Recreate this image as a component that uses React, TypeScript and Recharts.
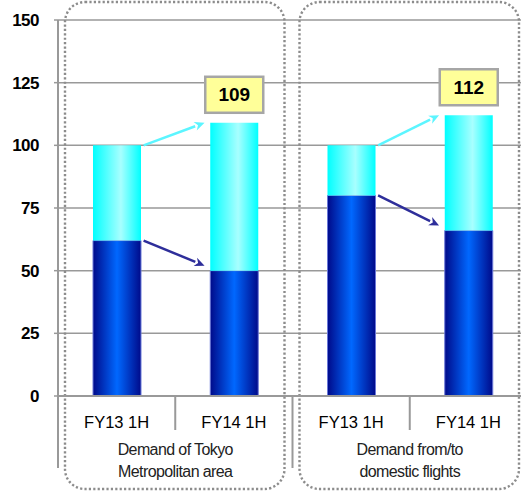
import React from 'react';
import {
  BarChart,
  Bar,
  XAxis,
  YAxis,
  CartesianGrid,
  ReferenceLine,
  ReferenceArea,
  LabelList,
} from 'recharts';

// ---- data ----
const groupLabels = [
  ['Demand of Tokyo', 'Metropolitan area'],
  ['Demand from/to', 'domestic flights'],
];
const periods = ['FY13 1H', 'FY14 1H'];
const lowerSegment = [62, 50, 80, 66];
const upperSegment = [38, 59, 20, 46];
const yTicks = [0, 25, 50, 75, 100, 125, 150];

// one slot per bar, unique so reference shapes can target it
const slots = groupLabels.flatMap((_, g) => periods.map((p) => `${g}:${p}`));
const data = slots.map((slot, i) => ({
  slot,
  period: periods[i % periods.length],
  lower: lowerSegment[i],
  upper: upperSegment[i],
  // callout boxes only above the later period of each group
  total: i % 2 === 1 ? lowerSegment[i] + upperSegment[i] : null,
}));

const FONT = '"Liberation Sans", Arial, sans-serif';
const AXIS_GREY = '#999999';

function PeriodTick(props: any) {
  const { x, y, index, payload } = props;
  const half = payload?.offset || 58.6;
  const row = data[index];
  const right = x + half;
  const groupEnd = index % 2 === 1;
  const g = Math.floor(index / 2);
  return (
    <g>
      <text x={x} y={y + 26} dy="0.35em" textAnchor="middle" fontSize={16.5} fontFamily={FONT} fill="#000">
        {row.period}
      </text>
      {index === 0 && (
        <line x1={x - half} x2={x - half} y1={y} y2={y + 72} stroke={AXIS_GREY} strokeWidth={2} />
      )}
      {index < data.length - 1 && (
        <line x1={right} x2={right} y1={y} y2={y + (groupEnd ? 72 : 34)} stroke={AXIS_GREY} strokeWidth={2} />
      )}
      {!groupEnd &&
        groupLabels[g].map((line, k) => (
          <text
            key={k}
            x={right}
            y={y + 53 + k * 22}
            dy="0.35em"
            textAnchor="middle"
            fontSize={16}
            fontFamily={FONT}
            letterSpacing={-0.6}
            fill="#222"
          >
            {line}
          </text>
        ))}
    </g>
  );
}

// dotted rounded frame around each group, reaching below the axis labels
function GroupFrame(props: any) {
  const { x, y, width, height } = props;
  return (
    <rect
      x={x + 7}
      y={y - 18}
      width={width - 15}
      height={height + 111}
      rx={20}
      ry={20}
      fill="none"
      stroke="#8c8c8c"
      strokeWidth={2.4}
      strokeDasharray="2.2 2.2"
    />
  );
}

function makeArrow(color: string, lift: number) {
  return (props: any) => {
    const { x1, y1, x2, y2 } = props;
    const d = x2 - x1;
    const sx = x1 + d * 0.23;
    const ex = x2 - d * 0.25;
    const ey = y2 - lift;
    const ang = Math.atan2(ey - y1, ex - sx);
    const len = 10;
    const w = 4.5;
    const bx = ex - len * Math.cos(ang);
    const by = ey - len * Math.sin(ang);
    const px = -Math.sin(ang) * w;
    const py = Math.cos(ang) * w;
    return (
      <g>
        <line x1={sx} y1={y1} x2={bx} y2={by} stroke={color} strokeWidth={2.5} />
        <path d={`M${ex},${ey} L${bx + px},${by + py} L${bx + 3 * Math.cos(ang)},${by + 3 * Math.sin(ang)} L${bx - px},${by - py} Z`} fill={color} />
      </g>
    );
  };
}

function TotalCallout(props: any) {
  const { x, y, width, value } = props;
  if (value == null) return null;
  const cx = x + width / 2;
  const w = 58;
  const h = 36;
  const top = y - 10 - h;
  return (
    <g>
      <rect x={cx - w / 2} y={top} width={w} height={h} fill="#ffff99" stroke="#a6a6a6" strokeWidth={2.5} />
      <text x={cx} y={top + h / 2} dy="0.35em" textAnchor="middle" fontSize={19} fontWeight="bold" fontFamily={FONT} fill="#000">
        {value}
      </text>
    </g>
  );
}

export default function App() {
  const arrows = groupLabels.flatMap((_, g) => {
    const a = 2 * g;
    const b = a + 1;
    return [
      { key: `t${g}`, from: { x: slots[a], y: data[a].lower + data[a].upper }, to: { x: slots[b], y: data[b].lower + data[b].upper }, color: '#5cf5ff', lift: 0 },
      { key: `l${g}`, from: { x: slots[a], y: data[a].lower }, to: { x: slots[b], y: data[b].lower }, color: '#2e2e9a', lift: 5 },
    ];
  });

  return (
    <div style={{ position: 'absolute', left: 0, top: 0, width: 521, height: 491, overflow: 'hidden', background: '#fff' }}>
      <BarChart
        width={540}
        height={491}
        data={data}
        margin={{ top: 20, right: 13, bottom: 0, left: 0 }}
        barSize={48}
        style={{ fontFamily: FONT }}
      >
        <defs>
          <linearGradient id="lowerFill" x1="0" y1="0" x2="1" y2="0">
            <stop offset="0%" stopColor="#000a8a" />
            <stop offset="50%" stopColor="#0068ff" />
            <stop offset="100%" stopColor="#000a8a" />
          </linearGradient>
          <linearGradient id="upperFill" x1="0" y1="0" x2="1" y2="0">
            <stop offset="0%" stopColor="#00ffff" />
            <stop offset="58%" stopColor="#a8ffff" />
            <stop offset="100%" stopColor="#00ffff" />
          </linearGradient>
        </defs>
        <CartesianGrid vertical={false} stroke={AXIS_GREY} strokeWidth={1.5} />
        {groupLabels.map((_, g) => (
          <ReferenceArea
            key={`frame${g}`}
            x1={slots[2 * g]}
            x2={slots[2 * g + 1]}
            ifOverflow="visible"
            shape={GroupFrame}
          />
        ))}
        <XAxis
          dataKey="slot"
          interval={0}
          height={95}
          tickSize={0}
          tickMargin={0}
          tickLine={false}
          axisLine={{ stroke: AXIS_GREY, strokeWidth: 2 }}
          tick={PeriodTick}
        />
        <YAxis
          width={58}
          domain={[0, 150]}
          ticks={yTicks}
          interval={0}
          tickSize={4}
          tickMargin={15}
          tickLine={{ stroke: AXIS_GREY, strokeWidth: 1.5 }}
          axisLine={{ stroke: AXIS_GREY, strokeWidth: 2 }}
          tick={{ fontSize: 17, fontWeight: 'bold', fill: '#000', fontFamily: FONT, letterSpacing: -0.5 }}
        />
        <Bar dataKey="lower" stackId="s" fill="url(#lowerFill)" stroke="#6a78d8" strokeWidth={1} isAnimationActive={false} />
        <Bar dataKey="upper" stackId="s" fill="url(#upperFill)" isAnimationActive={false}>
          <LabelList dataKey="total" content={TotalCallout} />
        </Bar>
        {arrows.map((a) => (
          <ReferenceLine key={a.key} segment={[a.from, a.to]} ifOverflow="visible" shape={makeArrow(a.color, a.lift)} />
        ))}
      </BarChart>
    </div>
  );
}
